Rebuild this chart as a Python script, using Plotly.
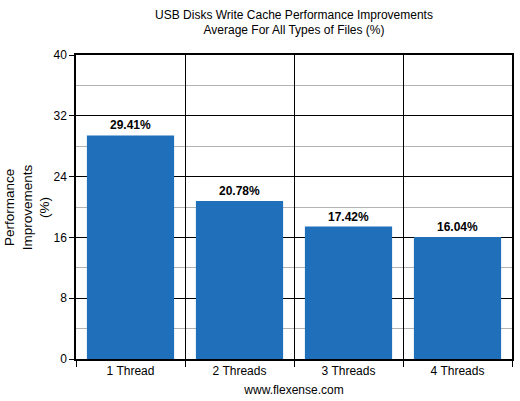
import plotly.graph_objects as go

categories = ["1 Thread", "2 Threads", "3 Threads", "4 Threads"]
values = [29.41, 20.78, 17.42, 16.04]
labels = ["29.41%", "20.78%", "17.42%", "16.04%"]
y_ticks = [0, 8, 16, 24, 32, 40]

FONT = "Liberation Sans, Arial, sans-serif"

fig = go.Figure()
fig.add_trace(go.Bar(
    x=categories, y=values, text=labels, textposition="outside",
    textfont=dict(family=FONT, size=12, color="black", weight="bold"),
    marker=dict(color="#1f6fba", line=dict(width=0)),
    width=0.8, cliponaxis=False,
))

fig.update_layout(
    width=520, height=401,
    margin=dict(l=76, r=8, t=55, b=42),
    paper_bgcolor="white", plot_bgcolor="white",
    font=dict(family=FONT, size=12, color="black"),
    showlegend=False,
    title=dict(text="USB Disks Write Cache Performance Improvements<br>Average For All Types of Files (%)",
               x=0.5, xref="paper", y=0.953, yref="container", yanchor="top",
               font=dict(family=FONT, size=12, color="black")),
    xaxis=dict(
        type="category", tickson="boundaries", ticks="outside", ticklen=6,
        tickcolor="black", tickwidth=1.2, automargin=False,
        showgrid=True, gridcolor="black", gridwidth=1.2,
        showline=True, linecolor="black", linewidth=1.5, mirror=True,
        tickfont=dict(family=FONT, size=12, color="black"),
        title=dict(text="www.flexense.com", standoff=8,
                   font=dict(family=FONT, size=12, color="black")),
    ),
    yaxis=dict(
        range=[0, 40], tickvals=y_ticks, ticks="outside", ticklen=5,
        tickcolor="black", tickwidth=1.2, automargin=False,
        showgrid=True, gridcolor="black", gridwidth=1.2,
        minor=dict(dtick=4, showgrid=True, gridcolor="#b3b3b3", gridwidth=1, ticks=""),
        showline=True, linecolor="black", linewidth=1.5, mirror=True,
        zeroline=False,
        tickfont=dict(family=FONT, size=12, color="black"),
    ),
    bargap=0.2,
)

fig.add_annotation(
    text="Performance<br>Improvements<br>(%)", textangle=-90,
    xref="paper", yref="paper", x=-0.112, y=0.5, xanchor="center", yanchor="middle",
    showarrow=False, font=dict(family=FONT, size=13.5, color="black"),
)

fig.write_html(
    "out.html",
    config={"displayModeBar": False},
    post_script="document.body.style.margin='0';document.body.style.padding='0';document.body.style.overflow='hidden';",
)
